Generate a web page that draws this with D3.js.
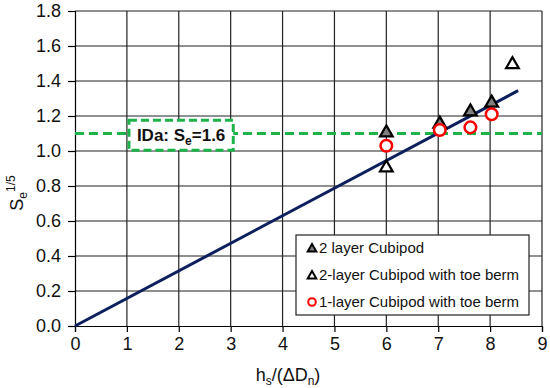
<!DOCTYPE html>
<html><head><meta charset="utf-8">
<script src="https://cdn.jsdelivr.net/npm/d3@7"></script>
<style>body{margin:0;background:#fff}svg{display:block;font-family:"Liberation Sans",Arial,sans-serif}</style>
</head><body>
<svg id="c" width="550" height="388"></svg>
<script>
const xTicks = [0,1,2,3,4,5,6,7,8,9];
const yTicks = [0,0.2,0.4,0.6,0.8,1.0,1.2,1.4,1.6,1.8];
const twoLayerX = [6.0, 7.03, 7.62, 8.03];
const twoLayerY = [1.11, 1.16, 1.23, 1.28];
const toeBermX = [6.0, 8.43];
const toeBermY = [0.91, 1.50];
const oneLayerX = [6.0, 7.03, 7.62, 8.03];
const oneLayerY = [1.03, 1.12, 1.135, 1.21];
const fitX = [0, 8.54];
const fitY = [0, 1.345];
const idaLevel = 1.1;
const legendLabels = ["2 layer Cubipod", "2-layer Cubipod with toe berm", "1-layer Cubipod with toe berm"];

const svg = d3.select("#c");
const x = d3.scaleLinear().domain([0,9]).range([75,542]);
const y = d3.scaleLinear().domain([0,1.8]).range([326,11]);

// grid
svg.append("g").selectAll("line").data(xTicks.slice(1)).join("line")
  .attr("x1",d=>x(d)).attr("x2",d=>x(d)).attr("y1",y(0)).attr("y2",y(1.8))
  .attr("stroke","#222").attr("stroke-width",1.2);
svg.append("g").selectAll("line").data(yTicks.slice(1)).join("line")
  .attr("x1",x(0)).attr("x2",x(9)).attr("y1",d=>y(d)).attr("y2",d=>y(d))
  .attr("stroke","#222").attr("stroke-width",1.2);

// axes
const xa = svg.append("g").attr("transform",`translate(0,${y(0)})`)
  .call(d3.axisBottom(x).tickValues(xTicks).tickFormat(d3.format("d")).tickSize(6).tickPadding(5));
const ya = svg.append("g").attr("transform",`translate(${x(0)},0)`)
  .call(d3.axisLeft(y).tickValues(yTicks).tickFormat(d3.format(".1f")).tickSize(7).tickPadding(7));
[xa,ya].forEach(a=>{
  a.selectAll("path").attr("stroke","#000").attr("stroke-width",1.2);
  a.selectAll("line").attr("stroke","#000").attr("stroke-width",1.2);
  a.selectAll("text").attr("font-size",18).attr("fill","#111").attr("font-family","Liberation Sans, Arial, sans-serif");
});

// IDa dashed line
svg.append("line").attr("x1",x(0)).attr("x2",x(9)).attr("y1",y(idaLevel)).attr("y2",y(idaLevel))
  .attr("stroke","#1db34a").attr("stroke-width",3).attr("stroke-dasharray","9,5");

// fit line
svg.append("path").datum(fitX.map((v,i)=>[v,fitY[i]]))
  .attr("d",d3.line().x(d=>x(d[0])).y(d=>y(d[1])))
  .attr("stroke","#0d1f5c").attr("stroke-width",3).attr("fill","none");

// IDa label box
const bx = x(1.04), bw = x(3.05)-x(1.04), by = y(1.176), bh = y(1.005)-y(1.176);
svg.append("rect").attr("x",bx).attr("y",by).attr("width",bw).attr("height",bh)
  .attr("fill","#fff").attr("stroke","#1db34a").attr("stroke-width",3).attr("stroke-dasharray","8,4");
const lt = svg.append("text").attr("x",bx+bw/2).attr("y",by+bh/2+6).attr("text-anchor","middle")
  .attr("font-size",17).attr("font-weight","bold").attr("fill","#111");
lt.append("tspan").text("IDa: S");
lt.append("tspan").attr("font-size",12).attr("dy",4).text("e");
lt.append("tspan").attr("dy",-4).text("=1.6");

const tri = d3.symbol().type(d3.symbolTriangle).size(70);

// toe berm open triangles
svg.append("g").selectAll("path").data(toeBermX.map((v,i)=>[v,toeBermY[i]])).join("path")
  .attr("d",tri).attr("transform",d=>`translate(${x(d[0])},${y(d[1])+1})`)
  .attr("fill","#fff").attr("stroke","#000").attr("stroke-width",2.2);
// 2 layer filled triangles
svg.append("g").selectAll("path").data(twoLayerX.map((v,i)=>[v,twoLayerY[i]])).join("path")
  .attr("d",tri).attr("transform",d=>`translate(${x(d[0])},${y(d[1])+1})`)
  .attr("fill","#7f7f7f").attr("stroke","#000").attr("stroke-width",2.2);
// 1 layer circles
svg.append("g").selectAll("circle").data(oneLayerX.map((v,i)=>[v,oneLayerY[i]])).join("circle")
  .attr("cx",d=>x(d[0])).attr("cy",d=>y(d[1])).attr("r",5.8)
  .attr("fill","#fff").attr("stroke","#ff0000").attr("stroke-width",2.5);

// legend
const lg = svg.append("g");
lg.append("rect").attr("x",296).attr("y",235).attr("width",233).attr("height",80)
  .attr("fill","#fff").attr("stroke","#222").attr("stroke-width",1.2);
const rows = [248,275,302];
const smallTri = d3.symbol().type(d3.symbolTriangle).size(32);
lg.append("path").attr("d",smallTri).attr("transform",`translate(312,${rows[0]+1})`)
  .attr("fill","#7f7f7f").attr("stroke","#000").attr("stroke-width",2);
lg.append("path").attr("d",smallTri).attr("transform",`translate(312,${rows[1]+1})`)
  .attr("fill","#fff").attr("stroke","#000").attr("stroke-width",2);
lg.append("circle").attr("cx",312).attr("cy",rows[2]).attr("r",3.8)
  .attr("fill","#fff").attr("stroke","#ff0000").attr("stroke-width",2);
lg.selectAll("text.l").data(legendLabels).join("text").attr("class","l")
  .attr("x",319).attr("y",(d,i)=>rows[i]+5).attr("font-size",15).attr("fill","#111").text(d=>d);

// axis titles
const xt = svg.append("text").attr("x",288).attr("y",381).attr("text-anchor","middle")
  .attr("font-size",18).attr("fill","#111");
xt.append("tspan").text("h");
xt.append("tspan").attr("font-size",12).attr("dy",4).text("s");
xt.append("tspan").attr("dy",-4).text("/(ΔD");
xt.append("tspan").attr("font-size",12).attr("dy",4).text("n");
xt.append("tspan").attr("dy",-4).text(")");

const yt = svg.append("text").attr("transform","translate(23,193) rotate(-90)").attr("text-anchor","middle")
  .attr("font-size",18).attr("fill","#111");
yt.append("tspan").text("S");
yt.append("tspan").attr("font-size",12).attr("dy",4).text("e");
yt.append("tspan").attr("font-size",12).attr("dy",-12).text("1/5");
</script>
</body></html>
